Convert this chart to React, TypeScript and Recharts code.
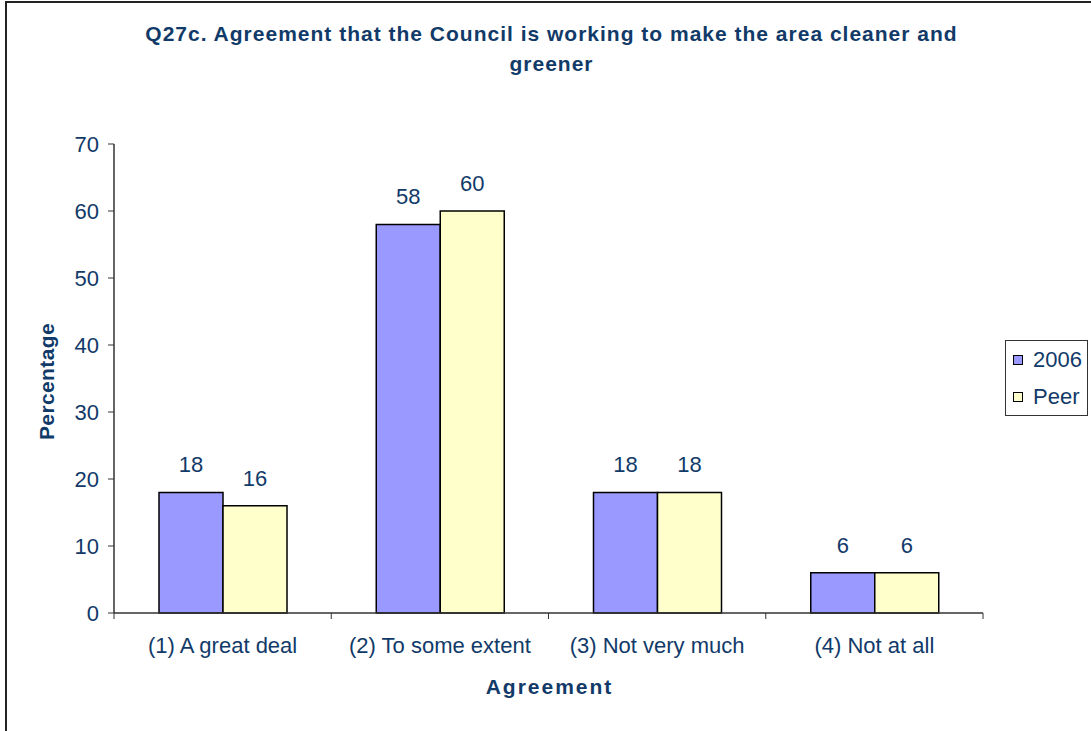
import React from 'react';
import { BarChart, Bar, XAxis, YAxis, Legend, LabelList, Label } from 'recharts';

const titleLines = ['Q27c. Agreement that the Council is working to make the area cleaner and', 'greener'];
const categories = ['(1) A great deal', '(2) To some extent', '(3) Not very much', '(4) Not at all'];
const values2006 = [18, 58, 18, 6];
const valuesPeer = [16, 60, 18, 6];
const yTicks = [0, 10, 20, 30, 40, 50, 60, 70];
const seriesNames = ['2006', 'Peer'];
const seriesColors = ['#9999FF', '#FFFFCC'];
const xTitle = 'Agreement';
const yTitle = 'Percentage';

const data = categories.map((c, i) => ({ cat: c, s2006: values2006[i], peer: valuesPeer[i] }));

const FONT = '"Liberation Sans", Arial, Helvetica, sans-serif';
const TEXT = '#113A69';
const CHART_W = 1091;
const CHART_H = 731;
const MARGIN = { top: 144, right: 108, bottom: 18, left: 0 };
const Y_AXIS_W = 114;
const X_AXIS_H = CHART_H - MARGIN.top - MARGIN.bottom - 469;
const PLOT_W = CHART_W - MARGIN.left - MARGIN.right - Y_AXIS_W;
const TICK_SIZE = 6;
const TICK_MARGIN = 18;
const FS = 22;

const XTick = (props: any) => {
  const { x, y, payload, index } = props;
  const count = props.visibleTicksCount || categories.length;
  const band = PLOT_W / count;
  const axisY = y - TICK_SIZE - TICK_MARGIN;
  return (
    <g>
      <line x1={x - band / 2} x2={x - band / 2} y1={axisY} y2={axisY + TICK_SIZE} stroke="#333" strokeWidth={1} />
      {index === count - 1 && (
        <line x1={x + band / 2} x2={x + band / 2} y1={axisY} y2={axisY + TICK_SIZE} stroke="#333" strokeWidth={1} />
      )}
      <text x={x} y={y} dy="0.71em" textAnchor="middle" fill={TEXT} fontSize={FS} fontFamily={FONT}>
        {payload.value}
      </text>
    </g>
  );
};

const renderLegend = (props: any) => {
  const payload = (props && props.payload) || [];
  const items = seriesNames.map((n, i) => {
    const p = payload.find((q: any) => q.value === n);
    return { name: n, color: (p && p.color) || seriesColors[i] };
  });
  return (
    <div
      style={{
        position: 'absolute',
        left: 0,
        top: 0,
        width: 83,
        height: 76,
        border: '1px solid #333',
        boxSizing: 'border-box',
        background: '#fff',
        fontFamily: FONT,
      }}
    >
      {items.map((it) => (
        <div key={it.name} style={{ display: 'flex', alignItems: 'center', height: 37, paddingLeft: 7 }}>
          <span
            style={{
              display: 'inline-block',
              width: 10,
              height: 10,
              background: it.color,
              border: '1.5px solid #000',
              boxSizing: 'border-box',
              marginRight: 10,
            }}
          />
          <span style={{ fontSize: FS, color: TEXT, lineHeight: '24px' }}>{it.name}</span>
        </div>
      ))}
    </div>
  );
};

export default function App() {
  return (
    <div
      style={{
        position: 'fixed',
        left: 0,
        top: 0,
        width: CHART_W,
        height: CHART_H,
        overflow: 'hidden',
        background: '#fff',
        fontFamily: FONT,
      }}
    >
      <div
        style={{
          position: 'absolute',
          left: 5,
          top: 1,
          width: 1100,
          height: 760,
          border: '2px solid #222',
          boxSizing: 'border-box',
        }}
      />
      <div
        style={{
          position: 'absolute',
          left: 5,
          top: 19,
          width: 1093,
          textAlign: 'center',
          fontSize: 21,
          fontWeight: 'bold',
          letterSpacing: 1,
          lineHeight: '30px',
          color: TEXT,
          whiteSpace: 'nowrap',
        }}
      >
        {titleLines.map((l, i) => (
          <div key={i}>{l}</div>
        ))}
      </div>
      <div style={{ position: 'absolute', left: 0, top: 0 }}>
        <BarChart
          width={CHART_W}
          height={CHART_H}
          data={data}
          margin={MARGIN}
          barCategoryGap={45}
          barGap={0}
        >
          <XAxis
            xAxisId="top"
            orientation="top"
            dataKey="cat"
            height={0}
            tick={false}
            tickLine={false}
            axisLine={{ stroke: '#8a8a8a', strokeWidth: 1.5 }}
          />
          <YAxis
            yAxisId="right"
            orientation="right"
            width={0}
            domain={[0, 70]}
            tick={false}
            tickLine={false}
            axisLine={{ stroke: '#8a8a8a', strokeWidth: 1.5 }}
          />
          <XAxis
            dataKey="cat"
            height={X_AXIS_H}
            tickLine={false}
            tickSize={TICK_SIZE}
            tickMargin={TICK_MARGIN}
            tick={<XTick />}
            interval={0}
            axisLine={{ stroke: '#333', strokeWidth: 1.5 }}
            label={
              <Label
                content={(p: any) => {
                  const vb = p.viewBox || { x: 114, y: 613, width: 869 };
                  return (
                    <text
                      x={vb.x + vb.width / 2 + 1}
                      y={vb.y + 81}
                      textAnchor="middle"
                      fill={TEXT}
                      fontSize={21}
                      fontWeight="bold"
                      letterSpacing={2}
                      fontFamily={FONT}
                    >
                      {xTitle}
                    </text>
                  );
                }}
              />
            }
          />
          <YAxis
            width={Y_AXIS_W}
            domain={[0, 70]}
            ticks={yTicks}
            interval={0}
            tickSize={TICK_SIZE}
            tickMargin={9}
            tick={{ fill: TEXT, fontSize: FS, fontFamily: FONT }}
            tickLine={{ stroke: '#333' }}
            axisLine={{ stroke: '#333', strokeWidth: 1.5 }}
            label={
              <Label
                content={(p: any) => {
                  const vb = p.viewBox || { x: 0, y: 144, height: 469 };
                  const cx = vb.x + 46.5;
                  const cy = vb.y + vb.height / 2 + 3;
                  return (
                    <text
                      x={cx}
                      y={cy}
                      transform={`rotate(-90, ${cx}, ${cy})`}
                      textAnchor="middle"
                      dominantBaseline="central"
                      fill={TEXT}
                      fontSize={21}
                      fontWeight="bold"
                      letterSpacing={0.4}
                      fontFamily={FONT}
                    >
                      {yTitle}
                    </text>
                  );
                }}
              />
            }
          />
          <Legend
            layout="vertical"
            align="right"
            verticalAlign="middle"
            wrapperStyle={{ left: 1005, top: 340, width: 0, height: 0 }}
            content={renderLegend}
          />
          <Bar dataKey="s2006" name={seriesNames[0]} fill={seriesColors[0]} stroke="#000" strokeWidth={1.5} isAnimationActive={false}>
            <LabelList dataKey="s2006" position="top" offset={20} fill={TEXT} fontSize={FS} fontFamily={FONT} />
          </Bar>
          <Bar dataKey="peer" name={seriesNames[1]} fill={seriesColors[1]} stroke="#000" strokeWidth={1.5} isAnimationActive={false}>
            <LabelList dataKey="peer" position="top" offset={20} fill={TEXT} fontSize={FS} fontFamily={FONT} />
          </Bar>
        </BarChart>
      </div>
    </div>
  );
}
